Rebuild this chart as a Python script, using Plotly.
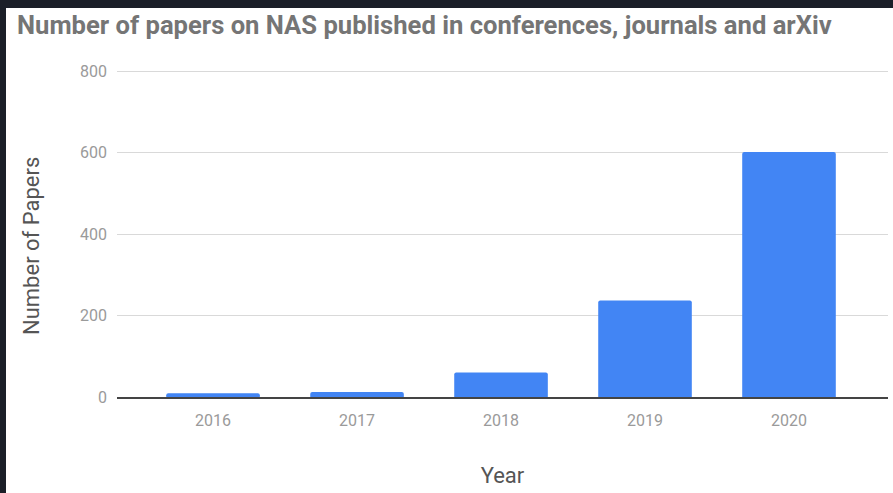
import plotly.graph_objects as go

years = ["2016", "2017", "2018", "2019", "2020"]
papers = [9, 12, 60, 237, 601]
y_ticks = [0, 200, 400, 600, 800]

W, H = 893, 493
L, R, T, B = 117, 5, 69, 96
pw = W - L - R
ph = H - T - B
DARK = "#1b1f28"
y_top = 800 * ph / (ph - 2)   # keep the 800 grid line 2px inside the plot

fig = go.Figure()
fig.add_trace(go.Bar(
    x=years, y=papers,
    marker=dict(color="#4285F4", cornerradius=2, line=dict(width=0)),
    width=0.65,
))

# dark frame bands (top and left) of the screenshot, kept inside the page
fig.add_shape(type="rect", xref="paper", yref="paper",
              x0=-L / pw, x1=(6 - L) / pw, y0=-B / ph, y1=(H - B) / ph,
              fillcolor=DARK, line=dict(width=0), layer="below")
fig.add_shape(type="rect", xref="paper", yref="paper",
              x0=-L / pw, x1=(W - L) / pw, y0=(H - B - 8) / ph, y1=(H - B) / ph,
              fillcolor=DARK, line=dict(width=0), layer="below")

fig.update_layout(
    width=W, height=H,
    margin=dict(l=L, r=R, t=T, b=B, autoexpand=False),
    paper_bgcolor="white",
    plot_bgcolor="white",
    showlegend=False,
    title=dict(
        text="<b>Number of papers on NAS published in conferences, journals and arXiv</b>",
        font=dict(family="Roboto", size=25.6, color="#757575"),
        x=17 / W, xanchor="left", xref="container",
        y=1 - 25 / H, yanchor="middle", yref="container",
    ),
    font=dict(family="Roboto"),
    annotations=[dict(
        text="Number of Papers", textangle=-90, showarrow=False,
        xref="paper", yref="paper",
        x=(32 - L) / pw, xanchor="center",
        y=(H - B - 246) / ph, yanchor="middle",
        font=dict(family="Roboto", size=22, color="#555555"),
    )],
)

fig.update_xaxes(
    type="category",
    range=[-0.667, 4.6875],
    showgrid=False,
    showline=True, linecolor="#444444", linewidth=1.5,
    ticks="", ticklabelstandoff=8,
    tickfont=dict(family="Roboto", size=16, color="#9a9a9a"),
    title=dict(text="Year", font=dict(family="Roboto", size=22, color="#555555"), standoff=39),
    fixedrange=True,
)
fig.update_yaxes(
    range=[0, y_top],
    tickvals=y_ticks,
    ticktext=[str(v) for v in y_ticks],
    showgrid=True, gridcolor="#d9d9d9", gridwidth=1.3,
    zeroline=False, showline=False,
    ticks="", ticklabelstandoff=9,
    tickfont=dict(family="Roboto", size=16, color="#9a9a9a"),
    fixedrange=True,
)

fig.write_html("out.html")
